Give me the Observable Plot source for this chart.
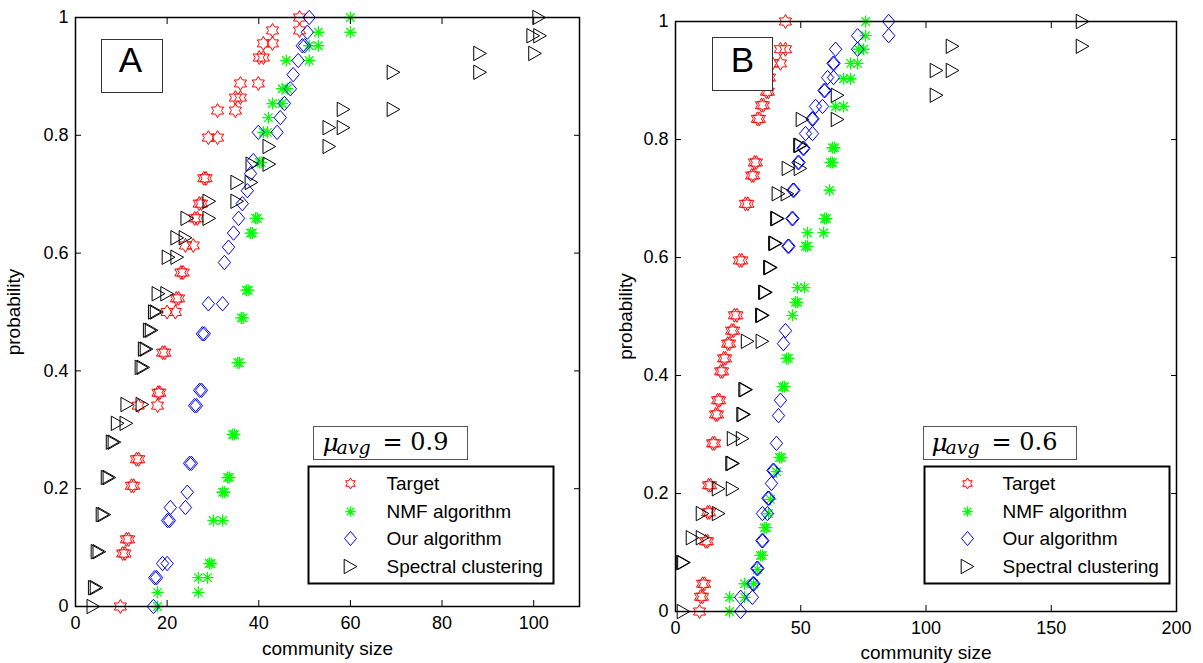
<!DOCTYPE html>
<html><head><meta charset="utf-8">
<script src="https://cdn.jsdelivr.net/npm/d3@7"></script>
<script src="https://cdn.jsdelivr.net/npm/@observablehq/plot@0.6"></script>
<style>
html,body{margin:0;padding:0;background:#fff;}
#wrap{position:relative;width:1203px;height:663px;overflow:hidden;background:#fff;}
#pa{position:absolute;left:0;top:0;}
#pb{position:absolute;left:600px;top:0;}
</style></head><body><div id="wrap"><div id="pa"></div><div id="pb"></div></div>
<script>
const seriesNames = ["Target", "NMF algorithm", "Our algorithm", "Spectral clustering"];
const seriesColors = ["#ff0000", "#00ff00", "#0000ff", "#000000"];
const xTicksA = [0, 20, 40, 60, 80, 100];
const xTicksB = [0, 50, 100, 150, 200];
const yTicks = [0, 0.2, 0.4, 0.6, 0.8, 1];
const xLabel = "community size";
const yLabel = "probability";

// Panel A (mu_avg = 0.9): [community size, probability]
const aTarget = [[48.9,1.0],[48.9,0.978],[43.0,0.978],[41.0,0.956],[43.0,0.956],[40.1,0.932],[41.0,0.932],[36.0,0.888],[39.9,0.888],[34.9,0.864],[36.0,0.864],[31.0,0.842],[34.9,0.842],[29.0,0.796],[31.0,0.796],[28.0,0.727],[28.5,0.727],[27.0,0.684],[27.5,0.684],[26.0,0.659],[26.6,0.659],[24.0,0.613],[25.7,0.613],[23.0,0.567],[23.5,0.567],[22.0,0.523],[22.5,0.523],[20.0,0.5],[21.8,0.5],[19.0,0.431],[19.5,0.431],[18.0,0.363],[18.4,0.363],[13.7,0.341],[17.9,0.341],[13.3,0.25],[13.8,0.25],[12.2,0.205],[12.7,0.205],[11.1,0.114],[11.6,0.114],[10.3,0.09],[10.8,0.09],[9.8,0.0]];
const aNMF = [[60,1.0],[60,0.975],[53,0.975],[51,0.952],[53,0.952],[46,0.927],[51,0.927],[45.1,0.879],[46.2,0.879],[43,0.854],[45.1,0.854],[42.1,0.83],[41,0.805],[41.9,0.805],[40.1,0.754],[40.5,0.754],[39.3,0.659],[39.7,0.659],[38.2,0.634],[38.6,0.634],[37.3,0.537],[37.7,0.537],[36.2,0.49],[36.6,0.49],[35.4,0.414],[35.8,0.414],[34.3,0.292],[34.7,0.292],[33.2,0.219],[33.6,0.219],[32.1,0.194],[32.5,0.194],[30.1,0.146],[32.1,0.146],[29.2,0.073],[29.6,0.073],[26.8,0.049],[28.8,0.049],[17.9,0.024],[26.8,0.024],[17.9,0.0]];
const aOurs = [[51,1.0],[50.6,0.975],[49.5,0.952],[50,0.952],[48.6,0.927],[47.5,0.903],[46.9,0.879],[45.6,0.854],[44.7,0.83],[44,0.805],[39.9,0.805],[38.8,0.757],[38.2,0.735],[37.5,0.706],[36.4,0.684],[35.6,0.659],[34.5,0.634],[33.4,0.61],[32.5,0.584],[29,0.514],[32.1,0.514],[27.7,0.463],[28.1,0.463],[27.1,0.367],[27.5,0.367],[26,0.341],[26.4,0.341],[24.9,0.243],[25.3,0.243],[24.4,0.194],[24,0.168],[20.7,0.168],[20.1,0.146],[20.5,0.146],[19,0.073],[20,0.073],[17.3,0.049],[17.7,0.049],[17,0.0]];
const aSpectral = [[101.2,1.0],[99.9,0.969],[101.4,0.969],[100.3,0.939],[88.3,0.939],[88.3,0.907],[69.4,0.907],[69.4,0.844],[58.5,0.844],[55.4,0.813],[58.5,0.813],[55.4,0.781],[42.3,0.781],[42.3,0.751],[38.6,0.751],[35.3,0.72],[38.4,0.72],[35.3,0.688],[29.2,0.688],[24.4,0.659],[29.2,0.659],[22.2,0.626],[24,0.626],[20.3,0.593],[22.2,0.593],[18.1,0.531],[20,0.531],[17.3,0.5],[17.7,0.5],[16.2,0.469],[16.6,0.469],[15.1,0.437],[15.5,0.437],[14.4,0.406],[14.8,0.406],[11.3,0.343],[14.6,0.343],[9.2,0.311],[11.1,0.311],[8.1,0.279],[8.5,0.279],[7.0,0.219],[7.4,0.219],[5.9,0.156],[6.3,0.156],[4.8,0.093],[5.2,0.093],[4.2,0.032],[4.6,0.032],[3.9,0.0]];

// Panel B (mu_avg = 0.6)
const bTarget = [[43.9,1.0],[41.9,0.953],[43.9,0.953],[38.7,0.929],[41.9,0.929],[36.7,0.905],[37.5,0.905],[36.3,0.881],[37.1,0.881],[34.3,0.858],[35.1,0.858],[32.7,0.835],[33.5,0.835],[31.5,0.761],[32.3,0.761],[30.4,0.739],[31.2,0.739],[27.9,0.691],[28.9,0.691],[25.5,0.595],[26.5,0.595],[23.5,0.502],[24.5,0.502],[22.4,0.476],[23.2,0.476],[20.8,0.454],[21.6,0.454],[19.2,0.429],[20.0,0.429],[18.0,0.407],[18.8,0.407],[16.8,0.358],[17.6,0.358],[16.0,0.334],[16.8,0.334],[14.8,0.285],[15.6,0.285],[13.2,0.214],[14.0,0.214],[12.8,0.168],[13.6,0.168],[12.0,0.119],[12.8,0.119],[10.8,0.047],[11.6,0.047],[10.0,0.025],[10.8,0.025],[9.6,0.0]];
const bNMF = [[75.9,1.0],[75.9,0.976],[73.1,0.953],[75.1,0.953],[69.9,0.929],[72.7,0.929],[67.1,0.903],[69.9,0.903],[63.9,0.856],[67.1,0.856],[62.7,0.786],[63.5,0.786],[61.9,0.761],[62.7,0.761],[61.5,0.714],[59.5,0.666],[60.3,0.666],[52.7,0.642],[59.1,0.642],[51.9,0.619],[52.7,0.619],[48.7,0.549],[51.5,0.549],[47.9,0.524],[48.7,0.524],[46.7,0.502],[44.3,0.429],[45.1,0.429],[42.7,0.381],[43.5,0.381],[41.5,0.261],[42.3,0.261],[40.3,0.237],[37.9,0.19],[37.1,0.166],[35.5,0.142],[36.3,0.142],[33.9,0.095],[34.7,0.095],[32.7,0.071],[27.6,0.047],[31.2,0.047],[21.6,0.024],[27.6,0.024],[21.6,0.0]];
const bOurs = [[85.1,1.0],[85.1,0.976],[72.7,0.976],[72.7,0.953],[63.9,0.953],[62.9,0.929],[63.3,0.929],[60.7,0.905],[63.1,0.905],[59.3,0.883],[59.7,0.883],[55.9,0.856],[58.7,0.856],[54.5,0.835],[54.9,0.835],[51.9,0.81],[54.7,0.81],[50.9,0.785],[51.3,0.785],[48.9,0.761],[49.3,0.761],[46.9,0.714],[47.3,0.714],[46.5,0.666],[46.9,0.666],[44.9,0.619],[45.3,0.619],[43.9,0.476],[43.1,0.454],[41.9,0.358],[41.1,0.332],[40.3,0.285],[38.9,0.239],[39.3,0.239],[38.3,0.217],[36.9,0.192],[37.3,0.192],[34.7,0.166],[36.7,0.166],[34.5,0.12],[34.9,0.12],[32.5,0.073],[32.9,0.073],[30.9,0.047],[31.3,0.047],[26,0.024],[30.7,0.024],[26,0.0]];
const bSpectral = [[162.5,1.0],[162.5,0.958],[110.6,0.958],[104.2,0.917],[110.6,0.917],[104.2,0.875],[64.7,0.875],[64.7,0.834],[50.7,0.834],[49.7,0.79],[50.1,0.79],[45.1,0.751],[49.9,0.751],[41.1,0.708],[44.7,0.708],[40.5,0.666],[40.9,0.666],[39.7,0.624],[40.1,0.624],[37.7,0.583],[38.1,0.583],[35.7,0.541],[36.1,0.541],[34.5,0.502],[34.9,0.502],[28.8,0.458],[34.7,0.458],[27.8,0.376],[28.2,0.376],[27.0,0.334],[27.4,0.334],[23.2,0.293],[26.8,0.293],[22.6,0.251],[23.0,0.251],[17.2,0.208],[22.8,0.208],[10.8,0.166],[17.2,0.166],[6.8,0.125],[10.8,0.125],[3.0,0.083],[3.4,0.083],[3.2,0.0]];

// MATLAB-like marker shapes
const rad = (size) => Math.sqrt(size / Math.PI);
const hexagram = {draw(ctx, size) {
  const r = rad(size), ri = r / Math.sqrt(3);
  for (let i = 0; i < 12; i++) {
    const a = -Math.PI / 2 + i * Math.PI / 6, rr = i % 2 ? ri : r;
    const x = rr * Math.cos(a), y = rr * Math.sin(a);
    if (i) ctx.lineTo(x, y); else ctx.moveTo(x, y);
  }
  ctx.closePath();
}};
const asterisk = {draw(ctx, size) {
  const r = rad(size), d = r * Math.SQRT1_2;
  ctx.moveTo(-r, 0); ctx.lineTo(r, 0);
  ctx.moveTo(0, -r); ctx.lineTo(0, r);
  ctx.moveTo(-d, -d); ctx.lineTo(d, d);
  ctx.moveTo(-d, d); ctx.lineTo(d, -d);
}};
const diamond = {draw(ctx, size) {
  const r = rad(size), w = r * 0.86;
  ctx.moveTo(0, -r); ctx.lineTo(w, 0); ctx.lineTo(0, r); ctx.lineTo(-w, 0); ctx.closePath();
}};
const triRight = {draw(ctx, size) {
  const r = rad(size), w = r * 0.88;
  ctx.moveTo(-w, -r); ctx.lineTo(w, 0); ctx.lineTo(-w, r); ctx.closePath();
}};
const symbols = [hexagram, asterisk, diamond, triRight];
const dataR = [7, 6, 7.2, 7.2];
const legendR = [5.5, 5.2, 7, 7.2];
const strokeW = [1, 1.3, 1, 1];

function makePanel(cfg) {
  const series = cfg.series;
  const marks = [];
  series.forEach((s, i) => {
    marks.push(Plot.dot(s, {x: d => d[0], y: d => d[1], symbol: symbols[i], r: dataR[i],
      stroke: seriesColors[i], fill: "none", strokeWidth: strokeW[i]}));
  });
  marks.push(
    Plot.frame({stroke: "#000", strokeWidth: 1.5}),
    Plot.axisX({anchor: "bottom", ticks: cfg.xTicks, tickSize: 0, tickPadding: 10, tickFormat: d => String(d), label: null, fontSize: 18}),
    Plot.axisX({anchor: "bottom", ticks: cfg.xTicks, tickSize: -6, fill: "none", label: null}),
    Plot.axisX({anchor: "top", ticks: cfg.xTicks, tickSize: -6, fill: "none", label: null}),
    Plot.axisY({anchor: "left", ticks: yTicks, tickSize: 0, tickPadding: 7, tickFormat: d => String(d), label: null, fontSize: 18}),
    Plot.axisY({anchor: "left", ticks: yTicks, tickSize: -6, fill: "none", label: null}),
    Plot.axisY({anchor: "right", ticks: yTicks, tickSize: -6, fill: "none", label: null}),
    Plot.text([xLabel], {text: d => d, frameAnchor: "bottom", dy: cfg.xLabelDy, fontSize: 19, lineAnchor: "middle"}),
    Plot.text([yLabel], {text: d => d, frameAnchor: "left", dx: cfg.yLabelDx, rotate: -90, fontSize: 19, lineAnchor: "middle", textAnchor: "middle"}),
    // panel letter box
    Plot.frame({...cfg.letterBox, stroke: "#333", strokeWidth: 1, fill: "white"}),
    Plot.text([cfg.letter], {text: d => d, frameAnchor: "top-left", dx: cfg.letterPos[0], dy: cfg.letterPos[1], fontSize: 35, textAnchor: "middle", lineAnchor: "middle"}),
    // mu box
    Plot.frame({...cfg.muBox, stroke: "#555", strokeWidth: 1, fill: "white"}),
    Plot.text(["μ"], {text: d => d, frameAnchor: "top-left", dx: cfg.muPos[0], dy: cfg.muPos[1], fontSize: 25, fontFamily: "DejaVu Serif", fontStyle: "italic", textAnchor: "start", lineAnchor: "middle"}),
    Plot.text(["avg"], {text: d => d, frameAnchor: "top-left", dx: cfg.muPos[0] + 14, dy: cfg.muPos[1] + 5, fontSize: 19, fontFamily: "DejaVu Serif", fontStyle: "italic", textAnchor: "start", lineAnchor: "middle"}),
    Plot.text([cfg.muValue], {text: d => "= " + d, frameAnchor: "top-left", dx: cfg.muPos[0] + 60, dy: cfg.muPos[1], fontSize: 24, fontFamily: "DejaVu Serif", textAnchor: "start", lineAnchor: "middle"}),
    // legend box
    Plot.frame({...cfg.legendBox, stroke: "#000", strokeWidth: 2, fill: "white"})
  );
  seriesNames.forEach((name, i) => {
    marks.push(
      Plot.dot([name], {frameAnchor: "top-left", dx: cfg.legendSym, dy: cfg.legendRows[i], symbol: symbols[i], r: legendR[i],
        stroke: seriesColors[i], fill: "none", strokeWidth: strokeW[i]}),
      Plot.text([name], {text: d => d, frameAnchor: "top-left", dx: cfg.legendText, dy: cfg.legendRows[i], fontSize: 19, textAnchor: "start", lineAnchor: "middle"})
    );
  });
  return Plot.plot({
    width: cfg.width, height: 663,
    marginLeft: cfg.ml, marginRight: cfg.mr, marginTop: cfg.mt, marginBottom: cfg.mb,
    x: {domain: cfg.xDomain},
    y: {domain: [0, 1]},
    style: {fontFamily: "'Liberation Sans', Arial, sans-serif", fontSize: "18px", background: "white", color: "black", overflow: "visible"},
    marks
  });
}

const panelA = makePanel({
  series: [aTarget, aNMF, aOurs, aSpectral],
  width: 600, ml: 75, mr: 21, mt: 17, mb: 57,
  xDomain: [0, 110], xTicks: xTicksA,
  xLabelDy: 42, yLabelDx: -62,
  letter: "A", letterBox: {insetLeft: 26, insetTop: 22, insetRight: 417, insetBottom: 514}, letterPos: [55, 43],
  muBox: {insetLeft: 238, insetRight: 112, insetTop: 409, insetBottom: 147}, muPos: [247, 425], muValue: "0.9",
  legendBox: {insetLeft: 233, insetRight: 26, insetTop: 449, insetBottom: 23},
  legendSym: 275, legendText: 311, legendRows: [466, 494, 521, 549]
});
const panelB = makePanel({
  series: [bTarget, bNMF, bOurs, bSpectral],
  width: 603, ml: 75, mr: 27, mt: 21, mb: 52,
  xDomain: [0, 200], xTicks: xTicksB,
  xLabelDy: 41, yLabelDx: -50,
  letter: "B", letterBox: {insetLeft: 37, insetTop: 16, insetRight: 404, insetBottom: 521}, letterPos: [67, 39],
  muBox: {insetLeft: 248, insetRight: 100, insetTop: 405, insetBottom: 152}, muPos: [256, 421], muValue: "0.6",
  legendBox: {insetLeft: 249, insetRight: 7, insetTop: 445, insetBottom: 28},
  legendSym: 292, legendText: 327, legendRows: [462, 490, 517, 545]
});
document.getElementById("pa").appendChild(panelA);
document.getElementById("pb").appendChild(panelB);
</script>
</body></html>
